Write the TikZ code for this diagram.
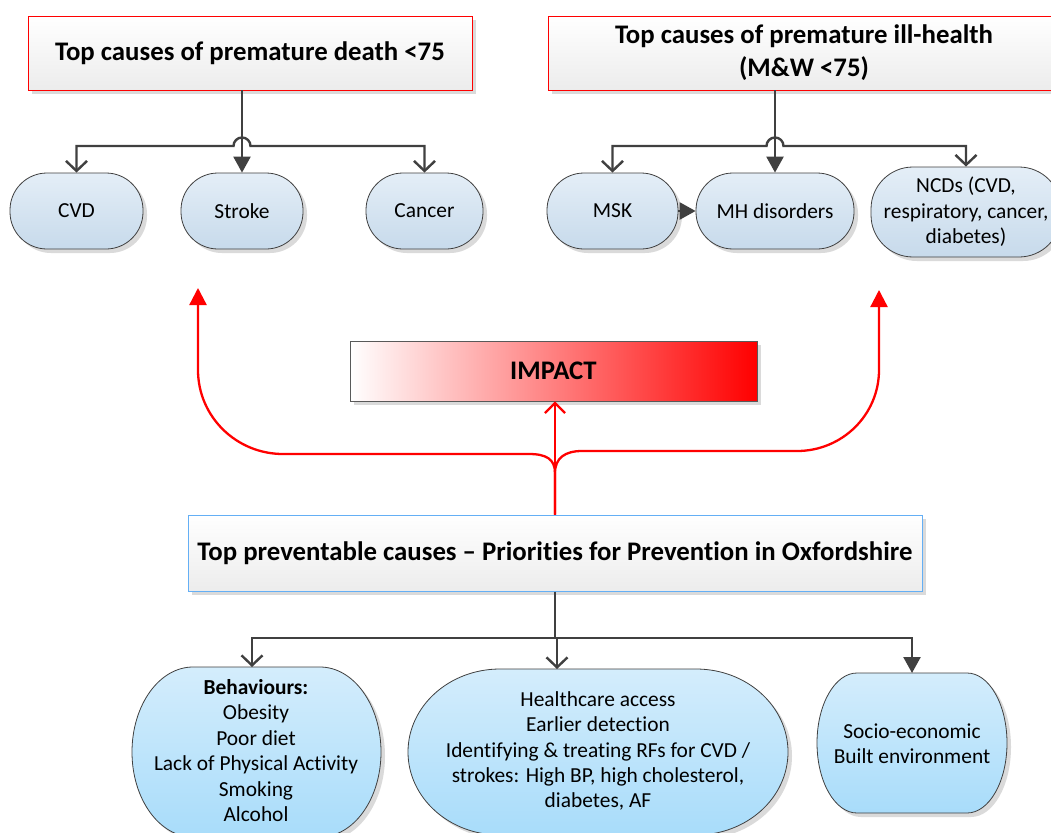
\documentclass[tikz,border=0pt]{standalone}
\usepackage{fontspec}
\setmainfont{Carlito}[Ligatures=NoCommon]
\usetikzlibrary{arrows.meta,shadows,calc}
\definecolor{conncol}{RGB}{64,64,64}
\definecolor{topA}{RGB}{228,238,247}
\definecolor{topB}{RGB}{199,218,235}
\definecolor{botA}{RGB}{212,237,252}
\definecolor{botB}{RGB}{168,220,250}
\definecolor{bluebd}{RGB}{100,175,245}
\definecolor{boxB}{RGB}{236,236,236}
\definecolor{shadowc}{RGB}{218,218,218}
\newcommand\ovalshape[7]{%
  \path[#1] ({#2+#6},#3) -- ({#4-#6},#3)
    arc[start angle=-90,end angle=0,x radius=#6,y radius=#7]
    -- (#4,{#5-#7})
    arc[start angle=0,end angle=90,x radius=#6,y radius=#7]
    -- ({#2+#6},#5)
    arc[start angle=90,end angle=180,x radius=#6,y radius=#7]
    -- (#2,{#3+#7})
    arc[start angle=180,end angle=270,x radius=#6,y radius=#7]
    -- cycle;}
\tikzset{
  shad/.style={drop shadow={shadow xshift=4pt,shadow yshift=-4pt,fill=shadowc,opacity=1}},
  bodyfont/.style={font=\fontsize{21.4}{25.4}\selectfont},
  titlebox/.style={draw=red,line width=0.8pt,top color=white,bottom color=boxB,
    font=\fontsize{26.8}{33}\selectfont\bfseries,align=center,inner sep=0pt,shad},
  cause/.style={draw=black!75,line width=0.8pt,rounded corners=37pt,top color=topA,
    bottom color=topB,bodyfont,align=center,inner sep=0pt,minimum height=76pt,shad},
  bshape/.style={draw=black!75,line width=0.8pt,top color=botA,bottom color=botB,shad},
  btext/.style={bodyfont,align=center,inner sep=0pt},
  conn/.style={draw=conncol,line width=2.4pt},
  redline/.style={draw=red,line width=2.3pt},
  openhead/.tip={Straight Barb[length=10pt,width=21pt]},
  fullhead/.tip={Triangle[length=16pt,width=17pt]},
}
\begin{document}
\begin{tikzpicture}[x=1pt,y=-1pt]
\useasboundingbox[fill=white] (0,0) rectangle (1051,832);

% title boxes
\node[titlebox,minimum width=444pt,minimum height=74pt] (t1) at (250,53) {Top causes of premature death <75};
\node[titlebox,minimum width=512pt,minimum height=74pt] (t2) at (804,53) {Top causes of premature ill-health\\(M\&W <75)};

% cause nodes
\node[cause,minimum width=133pt] (cvd) at (76.5,211) {CVD};
\node[cause,minimum width=122pt] (stroke) at (242,211) {Stroke};
\node[cause,minimum width=117pt] (cancer) at (424.5,211) {Cancer};
\node[cause,minimum width=131pt] (msk) at (612.5,211) {MSK};
\node[cause,minimum width=158pt] (mh) at (775,211) {MH disorders};
\node[cause,minimum width=190pt,minimum height=90pt,rounded corners=42pt] (ncd) at (966,212) {NCDs (CVD,\\respiratory, cancer,\\diabetes)};

% impact and prevention
\node[draw=black!65,line width=0.8pt,left color=white,right color=red,minimum width=407pt,minimum height=60pt,
  inner sep=0pt,font=\fontsize{26.8}{33}\selectfont\bfseries,shad] (impact) at (553.5,371) {IMPACT};
\node[draw=bluebd,line width=1pt,top color=white,bottom color=boxB,minimum width=734pt,minimum height=76pt,
  inner sep=0pt,font=\fontsize{26.8}{33}\selectfont\bfseries,shad] (bot) at (555,553) {Top preventable causes -- Priorities for Prevention in Oxfordshire};

% bottom shapes
\ovalshape{bshape}{132}{667}{381}{837}{61}{85}
\ovalshape{bshape}{408}{669}{788}{835}{92}{83}
\ovalshape{bshape}{817}{673}{1007}{813}{40}{70}
\node[btext] (beh) at (256,750.5) {\textbf{Behaviours:}\\Obesity\\Poor diet\\Lack of Physical Activity\\Smoking\\Alcohol};
\node[btext] (hc) at (598,751) {Healthcare access\\Earlier detection\\Identifying \& treating RFs for CVD /\\strokes: High BP, high cholesterol,\\diabetes, AF};
\node[btext] (soc) at (912,743.5) {Socio-economic\\Built environment};
\coordinate (behtop) at (252,667);
\coordinate (hctop) at (557,669);
\coordinate (soctop) at (912,673);

% top-left connectors
\coordinate (bus) at (0,146);
\draw[conn,-fullhead] (t1.south -| stroke.north) -- (stroke.north);
\draw[conn,openhead-openhead] (cvd.north) -- (cvd.north |- bus)
  -- ($(stroke.north |- bus)+(-8.5,0)$) arc[start angle=180,end angle=360,radius=8.5]
  -- (cancer.north |- bus) -- (cancer.north);

% top-right connectors
\draw[conn,-fullhead] (t2.south -| mh.north) -- (mh.north);
\draw[conn,openhead-openhead] (msk.north) -- (msk.north |- bus)
  -- ($(mh.north |- bus)+(-8.5,0)$) arc[start angle=180,end angle=360,radius=8.5]
  -- (ncd.north |- bus) -- (ncd.north);
\draw[conn,-fullhead] (msk.east) -- (mh.west);

% red impact arrows
\coordinate (lt) at (198,288);
\coordinate (rt) at (879,290);
\draw[redline,-{Straight Barb[length=10pt,width=20pt]}] (bot.north) -- (bot.north |- impact.south);
\draw[redline,-{Triangle[length=17pt,width=17pt]}] (bot.north) -- (555,473)
  .. controls (555,459) and (546,454) .. (529,454) -- (283,454)
  arc[start angle=90,end angle=180,x radius=85,y radius=84] -- (lt);
\draw[redline,-{Triangle[length=17pt,width=17pt]}] (bot.north) -- (555,473)
  .. controls (555,458) and (565,451) .. (582,451) -- (797,451)
  arc[start angle=90,end angle=0,x radius=82,y radius=81] -- (rt);

% bottom connectors
\coordinate (bbus) at (0,638);
\draw[conn] (bot.south) -- (bot.south |- bbus);
\draw[conn,openhead-fullhead] (behtop) -- (behtop |- bbus) -- (soctop |- bbus) -- (soctop);
\draw[conn,-openhead] (hctop |- bbus) -- (hctop);
\end{tikzpicture}
\end{document}
